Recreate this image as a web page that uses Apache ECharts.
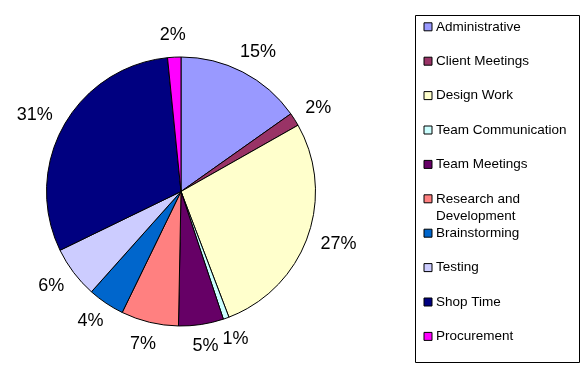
<!DOCTYPE html>
<html>
<head>
<meta charset="utf-8">
<script src="https://cdn.jsdelivr.net/npm/echarts@6/dist/echarts.min.js"></script>
<style>
html,body{margin:0;padding:0;background:#fff;}
#chart{width:584px;height:371px;}
</style>
</head>
<body>
<div id="chart"></div>
<script>
var categories = ['Administrative', 'Client Meetings', 'Design Work', 'Team Communication', 'Team Meetings', 'Research and Development', 'Brainstorming', 'Testing', 'Shop Time', 'Procurement'];
var values = [15.2, 1.6, 27.4, 0.7, 5.4, 6.9, 4.4, 6.2, 30.6, 1.6];
var colors = ['#9999FF', '#993366', '#FFFFCC', '#CCFFFF', '#660066', '#FF8080', '#0066CC', '#CCCCFF', '#000080', '#FF00FF'];

var legendTop = 18.3, legendSlot = 34.4, legendLineH = 17;
var wrapIndex = 5; // "Research and Development" wraps onto a second line

var chart = echarts.init(document.getElementById('chart'), null, {renderer: 'canvas'});
var data = categories.map(function (c, i) {
  return { name: c, value: values[i], itemStyle: { color: colors[i] } };
});

chart.setOption({
  animation: false,
  backgroundColor: '#ffffff',
  graphic: [{
    type: 'rect',
    shape: { x: 415.5, y: 15.5, width: 164, height: 347 },
    style: { fill: 'none', stroke: '#000', lineWidth: 1 },
    z: 0
  }, {
    type: 'text',
    left: 436,
    top: legendTop + wrapIndex * legendSlot + legendLineH,
    style: {
      text: 'Development',
      font: '13.5px "Liberation Sans", Arial, sans-serif',
      fill: '#000',
      lineHeight: legendLineH,
      height: legendLineH,
      verticalAlign: 'top'
    }
  }],
  legend: {
    orient: 'vertical',
    left: 423.5,
    top: legendTop,
    padding: 0,
    itemWidth: 8,
    itemHeight: 8,
    itemGap: legendSlot - legendLineH,
    icon: 'rect',
    selectedMode: false,
    data: categories,
    formatter: function (name) {
      return name === categories[wrapIndex] ? 'Research and' : name;
    },
    itemStyle: { borderColor: '#000', borderWidth: 1 },
    textStyle: {
      fontFamily: 'Liberation Sans, Arial, sans-serif',
      fontSize: 13.5,
      color: '#000',
      lineHeight: legendLineH,
      padding: [0, 0, 0, -1]
    }
  },
  series: [{
    type: 'pie',
    center: [181, 191.5],
    radius: 134.5,
    startAngle: 90,
    clockwise: true,
    avoidLabelOverlap: false,
    silent: true,
    data: data,
    itemStyle: { borderColor: '#000', borderWidth: 1 },
    label: {
      show: true,
      position: 'outside',
      formatter: function (p) { return Math.round(p.percent) + '%'; },
      fontFamily: 'Liberation Sans, Arial, sans-serif',
      fontSize: 18,
      color: '#000'
    },
    labelLine: { show: true, length: 15, length2: 0, lineStyle: { opacity: 0 } },
    labelLayout: function (p) {
      var pts = p.labelLinePoints;
      if (!pts) { return {}; }
      var ex = pts[1][0] - pts[0][0], ey = pts[1][1] - pts[0][1];
      var len = Math.sqrt(ex * ex + ey * ey) || 1;
      var dx = ex / len, dy = ey / len;
      var hw = p.labelRect.width / 2, hh = p.labelRect.height / 2 - 2;
      return { x: pts[1][0] + dx * hw, y: pts[1][1] + dy * hh, align: 'center', verticalAlign: 'middle' };
    },
    emphasis: { disabled: true }
  }]
});
</script>
</body>
</html>
